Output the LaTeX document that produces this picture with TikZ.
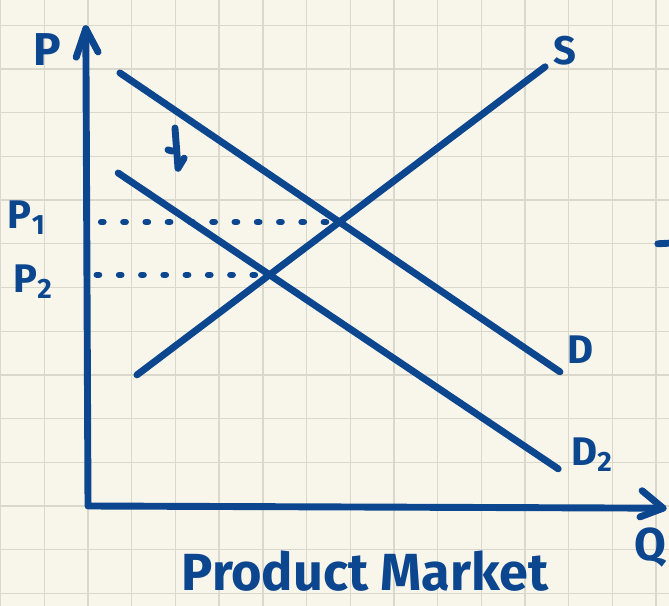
\documentclass[tikz,border=0pt]{standalone}
\usepackage{fontspec}
\setmainfont{Fira Sans}
\usetikzlibrary{intersections}
\definecolor{ink}{HTML}{0B468F}
\definecolor{paper}{HTML}{F8F6EB}
\definecolor{gridline}{HTML}{DAD7CB}

\begin{document}
\begin{tikzpicture}[
    curve/.style={line width=4.5pt, ink, line cap=round, line join=round},
    guide/.style={line width=4.2pt, ink, line cap=round, dash pattern=on 1.5pt off 13pt},
    lbl/.style={ink, inner sep=0pt, font=\bfseries\fontsize{26}{28}\selectfont}
]
    % Paper with grid
    \fill[paper] (-2.014,-2.288) rectangle (13.295,11.579);
    \useasboundingbox (-2.014,-2.288) rectangle (13.295,11.579);
    \foreach \x in {-2,...,13} {
        \draw[gridline, line width=0.9pt] (\x,-2.288) -- (\x,11.579);
    }
    \foreach \y in {-2,...,11} {
        \draw[gridline, line width=0.9pt] (-2.014,\y) -- (13.295,\y);
    }

    % Axes
    \coordinate (O) at (0,0);
    \coordinate (ytip) at (-0.05,10.92);
    \coordinate (xtip) at (13.16,-0.05);
    \draw[curve] (ytip) -- (O) -- (xtip);
    \draw[curve] (ytip) ++(-0.22,-0.65) -- (ytip) -- ++(0.28,-0.53);
    \draw[curve] (xtip) ++(-0.48,0.40) -- (xtip) -- ++(-0.53,-0.20);

    % Supply and demand curves
    \coordinate (S0) at (1.12,3.00);
    \coordinate (S1) at (10.46,10.05);
    \coordinate (D0) at (0.73,9.91);
    \coordinate (D1) at (10.80,3.07);
    \coordinate (Dtwo0) at (0.69,7.62);
    \coordinate (Dtwo1) at (10.76,0.85);
    \draw[curve, name path=S] (S0) -- (S1);
    \draw[curve, name path=D] (D0) -- (D1);
    \draw[curve, name path=Dtwo] (Dtwo0) -- (Dtwo1);
    \path[name intersections={of=S and D, by=E1}];
    \path[name intersections={of=S and Dtwo, by=E2}];

    % Price guides
    \path (O |- E1) coordinate (p1);
    \path (O |- E2) coordinate (p2);
    \draw[guide] ([xshift=0.3cm]p1) -- ([xshift=-0.3cm]E1);
    \draw[guide] ([xshift=0.2cm]p2) -- ([xshift=-0.2cm]E2);

    % Shift of demand
    \coordinate (shtop) at (1.99,8.65);
    \coordinate (shtip) at (2.06,7.73);
    \draw[curve] (shtop) -- (shtip);
    \draw[curve] (shtip) ++(-0.23,0.42) -- ++(0.1,-0.03);
    \draw[curve] (shtip) ++(0.14,0.23) -- (shtip);

    % Stray mark at edge
    \draw[curve] (13.04,6.0) -- (13.40,6.02);

    % Labels
    \node[lbl, font=\bfseries\fontsize{30}{32}\selectfont] (lP) at (-0.94,10.45) {P};
    \node[lbl] (lP1) at (-1.40,6.59) {P\textsubscript{1}};
    \node[lbl] (lP2) at (-1.26,5.13) {P\textsubscript{2}};
    \node[lbl] (lS) at (10.92,10.43) {S};
    \node[lbl] (lD) at (11.26,3.57) {D};
    \node[lbl] (lD2) at (11.53,1.17) {D\textsubscript{2}};
    \node[lbl, font=\bfseries\fontsize{30}{32}\selectfont] (lQ) at (12.86,-0.96) {Q};
    \node[lbl, font=\bfseries\fontsize{34}{38}\selectfont] (title) at (6.34,-1.48) {Product Market};
\end{tikzpicture}
\end{document}
